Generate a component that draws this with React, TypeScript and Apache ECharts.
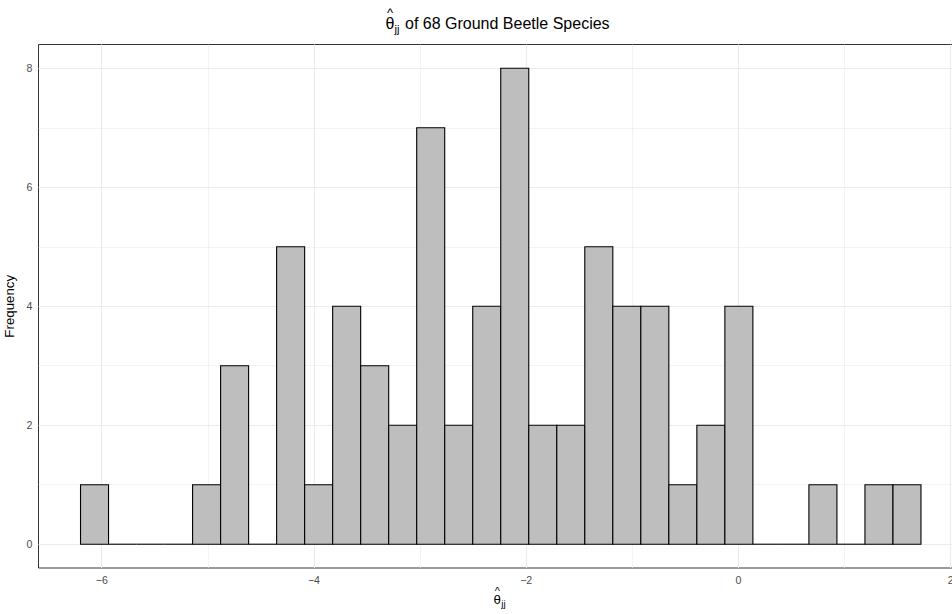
import React, { useEffect, useRef } from "react";
import * as echarts from "echarts";

// Histogram of theta-hat_jj (30 bins)
const binStart = -6.2;
const binWidth = 0.264;
const counts = [1, 0, 0, 0, 1, 3, 0, 5, 1, 4, 3, 2, 7, 2, 4, 8, 2, 2, 5, 4, 4, 1, 2, 4, 0, 0, 1, 0, 1, 1];

const xTicks = [-6, -4, -2, 0, 2];
const xMinor = [-5, -3, -1, 1];
const yTicks = [0, 2, 4, 6, 8];
const yMinor = [1, 3, 5, 7];

const symbolText = "θ";
const hatText = "^";
const subText = "jj";
const titleRest = "of 68 Ground Beetle Species";
const yName = "Frequency";

const FONT = "Liberation Sans, Arial, Helvetica, sans-serif";

function txt(text: string, x: number, y: number, size: number, align: string = "left") {
  return {
    type: "text",
    x,
    y,
    silent: true,
    style: {
      text,
      fontSize: size,
      fontFamily: FONT,
      fill: "#000000",
      textAlign: align,
      align,
      textVerticalAlign: "middle",
      verticalAlign: "middle",
    },
  };
}

export default function App() {
  const ref = useRef<HTMLDivElement>(null);

  useEffect(() => {
    document.body.style.margin = "0";
    if (!ref.current) return;
    const chart = echarts.init(ref.current, undefined, { renderer: "svg" });

    const bins = counts.map((c, i) => [binStart + i * binWidth, binStart + (i + 1) * binWidth, c]);

    const gridLines: any[] = [];
    xTicks.forEach((v) => gridLines.push({ xAxis: v, lineStyle: { color: "#EBEBEB", width: 1.1, type: "solid" } }));
    xMinor.forEach((v) => gridLines.push({ xAxis: v, lineStyle: { color: "#EBEBEB", width: 0.6, type: "solid" } }));
    yTicks.forEach((v) => gridLines.push({ yAxis: v, lineStyle: { color: "#EBEBEB", width: 1.1, type: "solid" } }));
    yMinor.forEach((v) => gridLines.push({ yAxis: v, lineStyle: { color: "#EBEBEB", width: 0.6, type: "solid" } }));

    const fmt = (v: number) => String(v).replace("-", "\u2212");

    chart.setOption({
      animation: false,
      backgroundColor: "#FFFFFF",
      textStyle: { fontFamily: FONT },
      graphic: [
        // title
        txt(symbolText, 385.5, 23.7, 16),
        txt(hatText, 390, 12.8, 13, "center"),
        txt(subText, 394.5, 28.5, 11),
        txt(titleRest, 405, 23.7, 16),
        // x-axis title
        txt(symbolText, 493.5, 599, 13.3),
        txt(hatText, 497.3, 591, 11, "center"),
        txt(subText, 501.3, 603, 9.5),
      ],
      grid: {
        left: 38.5,
        top: 44.5,
        width: 924.5,
        height: 523.5,
        show: true,
        borderColor: "#333333",
        borderWidth: 1,
        backgroundColor: "transparent",
        containLabel: false,
        outerBoundsMode: "none",
      },
      xAxis: {
        type: "value",
        min: -6.596,
        max: 2.116,
        axisLine: { show: false },
        axisTick: { show: true, length: 4, customValues: xTicks, lineStyle: { color: "#333333", width: 1 } },
        axisLabel: { show: true, customValues: xTicks, formatter: fmt, color: "#4D4D4D", fontSize: 10.6, margin: 6, fontFamily: FONT },
        splitLine: { show: false },
      },
      yAxis: {
        type: "value",
        min: -0.4,
        max: 8.4,
        name: yName,
        nameLocation: "middle",
        nameGap: 13,
        nameTextStyle: { fontSize: 13.3, color: "#000", fontFamily: FONT },
        axisLine: { show: false },
        axisTick: { show: true, length: 4, customValues: yTicks, lineStyle: { color: "#333333", width: 1 } },
        axisLabel: { show: true, customValues: yTicks, formatter: fmt, color: "#4D4D4D", fontSize: 10.6, margin: 6, fontFamily: FONT },
        splitLine: { show: false },
      },
      series: [
        {
          type: "line",
          data: [],
          z: 1,
          silent: true,
          markLine: {
            z: 1,
            silent: true,
            symbol: ["none", "none"],
            label: { show: false },
            animation: false,
            data: gridLines,
          },
        },
        {
          type: "custom",
          z: 3,
          data: bins,
          renderItem: (params: any, api: any) => {
            const x0 = api.value(0);
            const x1 = api.value(1);
            const c = api.value(2);
            const p0 = api.coord([x0, 0]);
            const p1 = api.coord([x1, c]);
            if (c === 0) {
              return {
                type: "line",
                shape: { x1: p0[0], y1: p0[1], x2: p1[0], y2: p0[1] },
                style: { stroke: "#000", lineWidth: 1.1 },
              };
            }
            return {
              type: "rect",
              shape: { x: p0[0], y: p1[1], width: p1[0] - p0[0], height: p0[1] - p1[1] },
              style: { fill: "#BEBEBE", stroke: "#000", lineWidth: 1.1 },
            };
          },
        },
      ],
    });

    return () => chart.dispose();
  }, []);

  return <div ref={ref} style={{ width: 952, height: 614 }} />;
}
